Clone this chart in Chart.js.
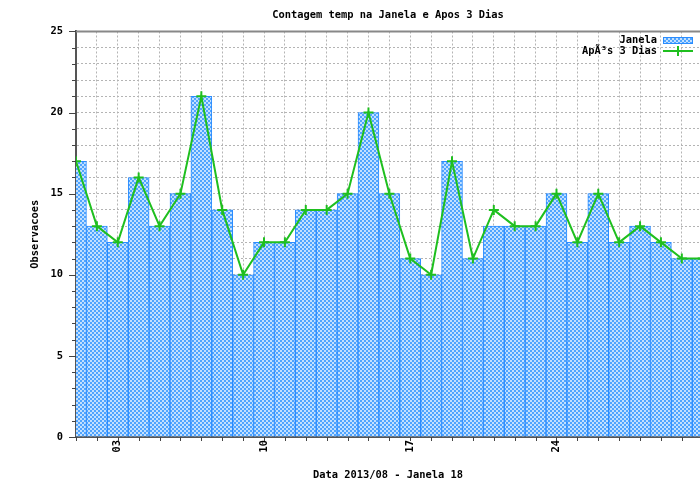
<!DOCTYPE html>
<html>
<head>
<meta charset="utf-8">
<title>Contagem temp na Janela e Apos 3 Dias</title>
<script src="https://cdn.jsdelivr.net/npm/chart.js@4.4.0/dist/chart.umd.min.js"></script>
<style>
  html, body { margin: 0; padding: 0; background: #fff; }
</style>
</head>
<body>
<canvas id="chart" width="700" height="484"></canvas>
<script>
// Contagens diarias - agosto de 2013, janela 18
const dias = [1, 2, 3, 4, 5, 6, 7, 8, 9, 10, 11, 12, 13, 14, 15, 16, 17, 18, 19, 20, 21, 22, 23, 24, 25, 26, 27, 28, 29, 30, 31];
const janela = [17, 13, 12, 16, 13, 15, 21, 14, 10, 12, 12, 14, 14, 15, 20, 15, 11, 10, 17, 11, 13, 13, 13, 15, 12, 15, 12, 13, 12, 11, 11];
const apos3Dias = [17, 13, 12, 16, 13, 15, 21, 14, 10, 12, 12, 14, 14, 15, 20, 15, 11, 10, 17, 11, 14, 13, 13, 15, 12, 15, 12, 13, 12, 11, 11];
const diasRotulados = [3, 10, 17, 24];

const FONTE = "'DejaVu Sans Mono', 'Liberation Mono', monospace";
const AZUL = '#2a8cff';
const VERDE = '#1fbf1f';

// padrao quadriculado dos boxes
function criaPadrao(ctx) {
    const c = document.createElement('canvas');
    c.width = 4;
    c.height = 4;
    const p = c.getContext('2d');
    p.fillStyle = '#c2e0ff';
    p.fillRect(0, 0, 4, 4);
    p.fillStyle = '#4fa4ff';
    p.fillRect(0, 0, 2, 2);
    p.fillRect(2, 2, 2, 2);
    return ctx.createPattern(c, 'repeat');
}

const canvas = document.getElementById('chart');
const ctx = canvas.getContext('2d');
const padrao = criaPadrao(ctx);

// ticks, borda superior e legenda desenhados a mao
const extras = {
    id: 'extras',
    afterDraw(chart) {
        const { ctx, chartArea, scales: { x, y } } = chart;
        ctx.save();

        ctx.strokeStyle = '#888';
        ctx.lineWidth = 2;
        ctx.beginPath();
        ctx.moveTo(chartArea.left, chartArea.top);
        ctx.lineTo(chartArea.right, chartArea.top);
        ctx.stroke();

        ctx.strokeStyle = '#444';
        ctx.lineWidth = 1;
        ctx.beginPath();
        y.ticks.forEach(t => {
            const py = Math.round(y.getPixelForValue(t.value)) + 0.5;
            const len = t.value % 5 === 0 ? 7 : 4;
            ctx.moveTo(chartArea.left - len, py);
            ctx.lineTo(chartArea.left, py);
        });
        x.ticks.forEach(t => {
            const px = Math.round(x.getPixelForValue(t.value)) + 0.5;
            ctx.moveTo(px, chartArea.bottom);
            ctx.lineTo(px, chartArea.bottom + 4);
        });
        ctx.stroke();

        // legenda
        ctx.font = 'bold 10.4px ' + FONTE;
        ctx.fillStyle = '#000';
        ctx.textAlign = 'right';
        ctx.textBaseline = 'middle';
        ctx.fillText('Janela', 657, 40);
        ctx.fillText('ApÃ³s 3 Dias', 657, 51);

        ctx.fillStyle = padrao;
        ctx.fillRect(663, 37, 30, 7);
        ctx.strokeStyle = AZUL;
        ctx.strokeRect(663.5, 37.5, 29, 6);

        ctx.strokeStyle = VERDE;
        ctx.lineWidth = 2;
        ctx.beginPath();
        ctx.moveTo(663, 51);
        ctx.lineTo(693, 51);
        ctx.moveTo(678, 46);
        ctx.lineTo(678, 56);
        ctx.stroke();

        ctx.restore();
    }
};

Chart.defaults.font.family = FONTE;
Chart.defaults.font.size = 10.4;
Chart.defaults.font.weight = 'bold';
Chart.defaults.color = '#000';

new Chart(ctx, {
    type: 'bar',
    data: {
        datasets: [
            {
                type: 'line',
                label: 'ApÃ³s 3 Dias',
                data: dias.map((d, i) => ({ x: d, y: apos3Dias[i] })),
                borderColor: VERDE,
                borderWidth: 2,
                pointStyle: 'cross',
                pointRadius: 5,
                pointBorderWidth: 2,
                pointBorderColor: VERDE,
                tension: 0,
                order: 0
            },
            {
                label: 'Janela',
                data: dias.map((d, i) => ({ x: d, y: janela[i] })),
                backgroundColor: padrao,
                borderColor: AZUL,
                borderWidth: 1,
                barPercentage: 1,
                categoryPercentage: 1,
                order: 1
            }
        ]
    },
    options: {
        responsive: false,
        animation: false,
        layout: { padding: 0, autoPadding: false },
        plugins: {
            legend: { display: false },
            tooltip: { enabled: false },
            title: {
                display: true,
                fullSize: false,
                text: 'Contagem temp na Janela e Apos 3 Dias',
                font: { size: 10.4, weight: 'bold' },
                color: '#000',
                padding: { top: 9, bottom: 10 }
            }
        },
        scales: {
            x: {
                type: 'linear',
                min: 1,
                max: 30.87,
                offset: false,
                afterFit: scale => {
                    scale.height = 47;
                    scale.paddingLeft = 0;
                    scale.paddingRight = 0;
                },
                afterBuildTicks: scale => {
                    scale.ticks = scale.ticks.filter(t => Number.isInteger(t.value));
                },
                ticks: {
                    stepSize: 1,
                    autoSkip: false,
                    maxRotation: 90,
                    minRotation: 90,
                    padding: 3,
                    callback: v => diasRotulados.includes(v) ? String(v).padStart(2, '0') : ''
                },
                grid: { color: '#b4b4b4', lineWidth: 1, drawTicks: false, offset: false },
                border: { color: '#555', width: 2, dash: [2, 2] },
                title: {
                    display: true,
                    text: 'Data 2013/08 - Janela 18',
                    font: { size: 10.4, weight: 'bold' },
                    padding: { top: 0, bottom: 2 }
                }
            },
            y: {
                min: 0,
                max: 25,
                afterFit: scale => { scale.width = 76; },
                ticks: {
                    stepSize: 1,
                    autoSkip: false,
                    padding: 13,
                    callback: v => v % 5 === 0 ? v : ''
                },
                grid: { color: '#b4b4b4', lineWidth: 1, drawTicks: false },
                border: { color: '#555', width: 2, dash: [2, 2] },
                title: {
                    display: true,
                    text: 'Observacoes',
                    font: { size: 10.4, weight: 'bold' },
                    padding: { top: 29, bottom: 0 }
                }
            }
        }
    },
    plugins: [extras]
});
</script>
</body>
</html>
